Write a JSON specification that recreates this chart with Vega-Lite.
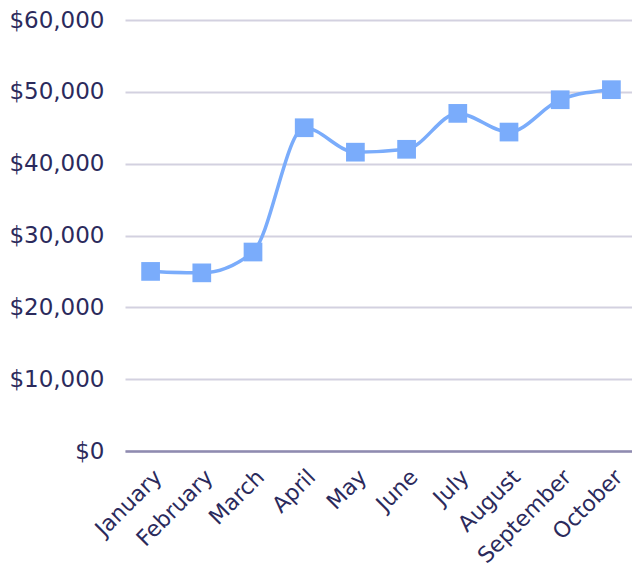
{
  "$schema": "https://vega.github.io/schema/vega-lite/v6.json",
  "autosize": {"type": "none"},
  "padding": {"left": 125, "top": 20, "right": 0, "bottom": 116},
  "width": 512,
  "height": 431,
  "background": "white",
  "data": {"values": [
    {"month": "January", "value": 25000},
    {"month": "February", "value": 24800},
    {"month": "March", "value": 27700},
    {"month": "April", "value": 45000},
    {"month": "May", "value": 41600},
    {"month": "June", "value": 42000},
    {"month": "July", "value": 47000},
    {"month": "August", "value": 44400},
    {"month": "September", "value": 48900},
    {"month": "October", "value": 50300}
  ]},
  "config": {
    "view": {"stroke": null},
    "font": "DejaVu Sans"
  },
  "encoding": {
    "x": {
      "field": "month", "type": "ordinal", "sort": null,
      "scale": {"type": "point", "padding": 0.5},
      "axis": {
        "title": null, "labelAngle": -45, "labelAlign": "right", "labelBaseline": "top",
        "labelFontSize": 22, "labelColor": "#2b2a5c", "labelPadding": 15,
        "ticks": false, "domainColor": "#8f8bb0", "domainWidth": 2.5, "grid": false
      }
    },
    "y": {
      "field": "value", "type": "quantitative",
      "scale": {"domain": [0, 60000]},
      "axis": {
        "title": null, "values": [0, 10000, 20000, 30000, 40000, 50000, 60000],
        "format": "$,.0f", "labelFontSize": 23, "labelColor": "#2b2a5c", "labelPadding": 21,
        "ticks": false, "domain": false, "gridColor": "#d3d1e0", "gridWidth": 2
      }
    }
  },
  "layer": [
    {"mark": {"type": "line", "interpolate": "monotone", "color": "#7aacfb", "strokeWidth": 3.5}},
    {"mark": {"type": "point", "shape": "square", "filled": true, "opacity": 1, "color": "#7aacfb", "size": 350}}
  ]
}
